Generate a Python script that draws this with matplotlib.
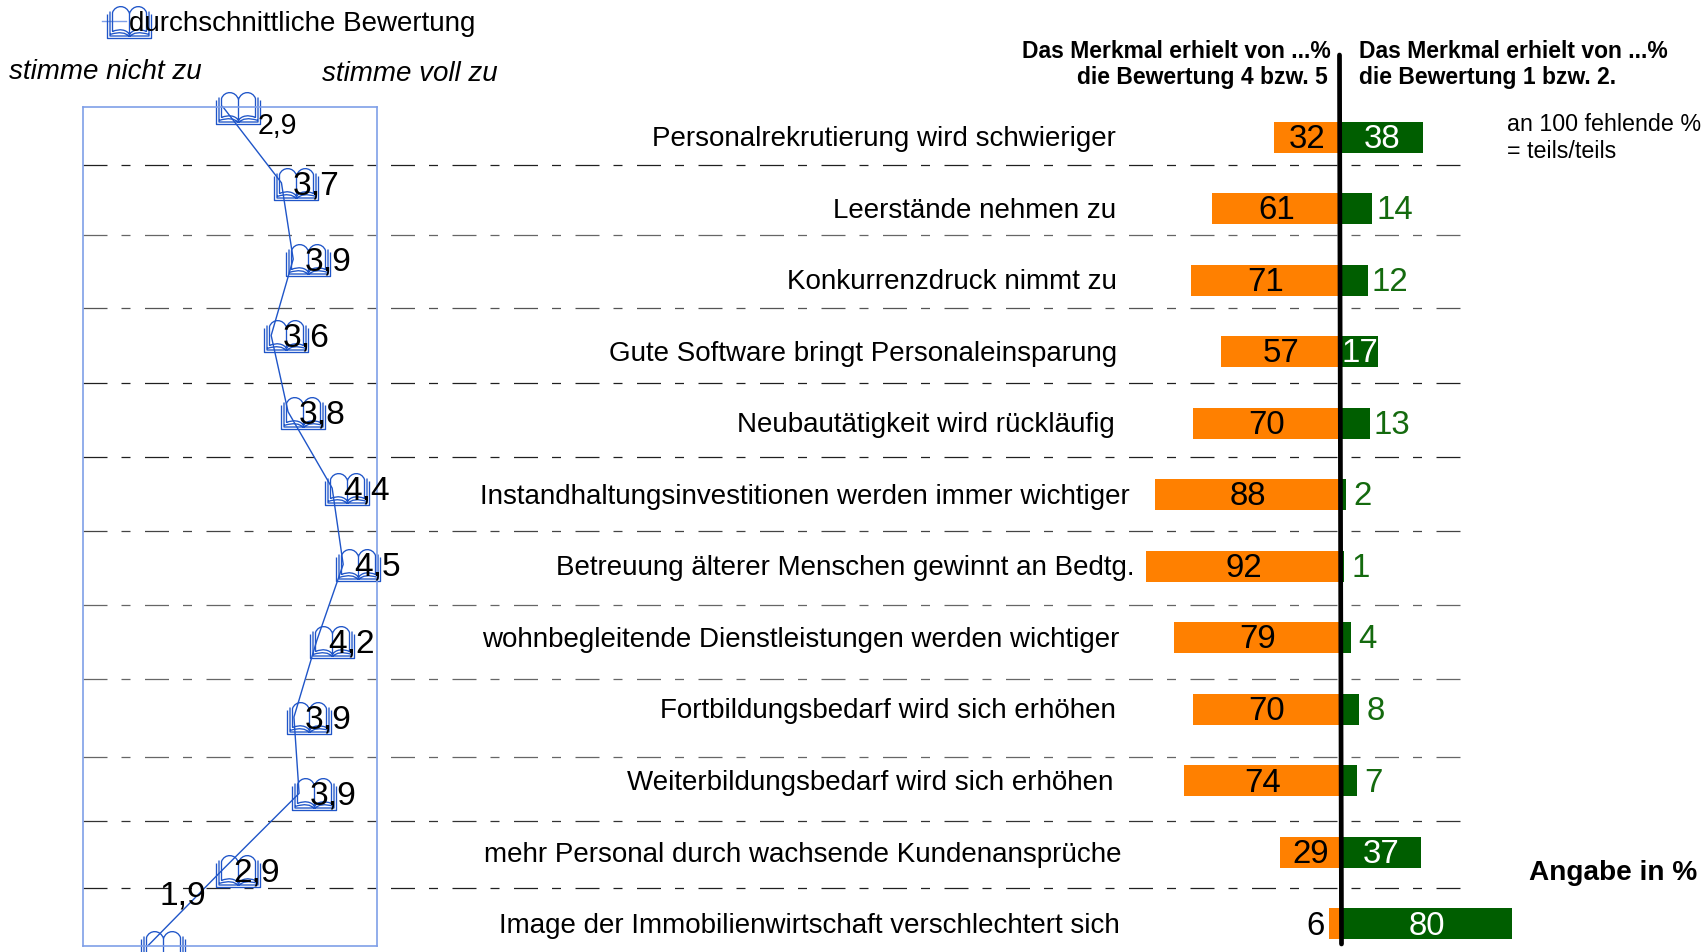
import matplotlib
matplotlib.use('Agg')
import matplotlib.pyplot as plt
from matplotlib.path import Path

plt.rcParams['font.family'] = ['Liberation Sans', 'DejaVu Sans']

W, H = 1705, 952

merkmale = ['Personalrekrutierung wird schwieriger', 'Leerstände nehmen zu', 'Konkurrenzdruck nimmt zu',
            'Gute Software bringt Personaleinsparung', 'Neubautätigkeit wird rückläufig',
            'Instandhaltungsinvestitionen werden immer wichtiger', 'Betreuung älterer Menschen gewinnt an Bedtg.',
            'wohnbegleitende Dienstleistungen werden wichtiger', 'Fortbildungsbedarf wird sich erhöhen',
            'Weiterbildungsbedarf wird sich erhöhen', 'mehr Personal durch wachsende Kundenansprüche',
            'Image der Immobilienwirtschaft verschlechtert sich']
zustimmung = [32, 61, 71, 57, 70, 88, 92, 79, 70, 74, 29, 6]
ablehnung = [38, 14, 12, 17, 13, 2, 1, 4, 8, 7, 37, 80]
bewertung = [2.9, 3.7, 3.86, 3.56, 3.79, 4.39, 4.54, 4.18, 3.87, 3.94, 2.9, 1.88]
bewertung_text = ['2,9', '3,7', '3,9', '3,6', '3,8', '4,4', '4,5', '4,2', '3,9', '3,9', '2,9', '1,9']
trennlinien = [165, 235, 308, 383, 457, 531, 605, 679, 757, 821, 888]
linienfarben = ['#202020', '#666666', '#555555', '#202020', '#202020', '#444444', '#666666', '#666666',
                '#666666', '#333333', '#202020']
label_right = [1026, 1026, 1027, 1027, 1025, 1039, 1043, 1029, 1026, 1024, 1031, 1030]

BLUE = '#1f55c8'
ORANGE = '#ff8000'
GREEN = '#005e00'
GREEN_TXT = '#146a0e'


def px_axes(fig, left, top, right, bottom):
    return fig.add_axes([left / W, 1 - bottom / H, (right - left) / W, (bottom - top) / H])


def px(size):
    # font size from pixel height at dpi 100
    return size * 0.72


# open book, drawn right of the data point like in the original
def book_marker():
    dx, dy = 15, -1
    verts, codes = [], []

    def poly(pts):
        for i, p in enumerate(pts):
            verts.append((p[0] + dx, p[1] + dy))
            codes.append(Path.MOVETO if i == 0 else Path.LINETO)

    def curve(p0, c1, c2, p1):
        for p, k in zip((p0, c1, c2, p1), (Path.MOVETO, Path.CURVE4, Path.CURVE4, Path.CURVE4)):
            verts.append((p[0] + dx, p[1] + dy))
            codes.append(k)

    poly([(-22, 8), (-22, -16), (22, -16), (22, 8)])
    poly([(-19.5, 11), (-19.5, -13.5), (19.5, -13.5), (19.5, 11)])
    for s in (-1, 1):
        curve((0, 9), (s * 3, 18), (s * 14, 18), (s * 17, 10))
        poly([(s * 17, 10), (s * 17, -9)])
        curve((s * 17, -9), (s * 10, -6), (s * 3, -7), (0, -12))
        curve((s * 19.5, -12), (s * 10, -9), (s * 4, -10), (0, -14))
    poly([(0, 9), (0, -12)])
    return Path(verts, codes)


BOOK = book_marker()
BOOK_SIZE = px(2 * 37)

fig = plt.figure(figsize=(W / 100, H / 100), dpi=100)

# overlay in pixel coordinates for separators and free text
over = fig.add_axes([0, 0, 1, 1], zorder=1)
over.set_xlim(0, W)
over.set_ylim(H, 0)
over.axis('off')

for y, c in zip(trennlinien, linienfarben):
    over.plot([83, 1460], [y, y], color=c, lw=0.9, dashes=(24 / 1.25, 14 / 1.25, 9 / 1.25, 14.5 / 1.25))

over.plot([102, 126], [21, 21], color='#7f9fe8', lw=1)
over.plot([114], [21], marker=BOOK, ms=BOOK_SIZE, mfc='none', mec=BLUE, mew=0.95, ls='none')
over.text(129, 24, 'durchschnittliche Bewertung', fontsize=px(27.8), va='center', ha='left')
over.text(9, 72, 'stimme nicht zu', fontsize=px(27.8), style='italic', va='center')
over.text(322, 74, 'stimme voll zu', fontsize=px(27.8), style='italic', va='center')

head = dict(fontsize=px(22.9), fontweight='bold', va='center')
over.text(1331, 52, 'Das Merkmal erhielt von ...%', ha='right', **head)
over.text(1328, 77.5, 'die Bewertung 4 bzw. 5', ha='right', **head)
over.text(1359, 52, 'Das Merkmal erhielt von ...%', ha='left', **head)
over.text(1359, 77.5, 'die Bewertung 1 bzw. 2.', ha='left', **head)
over.text(1507, 124.5, 'an 100 fehlende %', fontsize=px(23.3), va='center')
over.text(1507, 151, '= teils/teils', fontsize=px(23.3), va='center')
over.text(1697, 873, 'Angabe in %', fontsize=px(28), fontweight='bold', va='center', ha='right')

# left panel: mean rating per item
ax_r = px_axes(fig, 83, 106.5, 377, 946)
ax_r.set_zorder(2)
ax_r.patch.set_alpha(0)
ypos = list(range(len(bewertung)))
ax_r.plot(bewertung, ypos, color=BLUE, lw=1, marker=BOOK, ms=BOOK_SIZE, mfc='none', mec=BLUE, mew=0.95,
          clip_on=False)
ax_r.set_xlim(1, 5)
ax_r.set_ylim(11, 0)
ax_r.set_xticks([])
ax_r.set_yticks([])
for sp in ax_r.spines.values():
    sp.set_color('#7f9fe8')
    sp.set_linewidth(1.2)
for i, (v, t) in enumerate(zip(bewertung, bewertung_text)):
    off = (34.5, 3)
    size = 33.5
    if i == 0:
        off = (55, 20)
        size = 28.5
    elif i == len(bewertung) - 1:
        off = (35, -50)
    ax_r.annotate(t, (v, i), xytext=(off[0] * 0.72, -off[1] * 0.72), textcoords='offset points',
                  fontsize=px(size), ha='center', va='center', annotation_clip=False)

# right panel: diverging bars, x in percent with 0 near the centre line
ax_b = px_axes(fig, 1000, 101.5, 1600, 952.5)
ax_b.set_zorder(0)
ax_b.axis('off')
scale = 2.13
ax_b.set_xlim((1000 - 1342) / scale, (1600 - 1342) / scale)
ax_b.set_ylim(11.4, -0.5)
yb = list(range(len(merkmale)))
ax_b.barh(yb, [-z for z in zustimmung], height=0.433, color=ORANGE)
ax_b.barh(yb, ablehnung, height=0.433, color=GREEN)

for i, name in enumerate(merkmale):
    over.text(label_right[i] * 1.0874, 139 + i * 71.55, name, fontsize=px(27.8), ha='right', va='center')
    z, a = zustimmung[i], ablehnung[i]
    # values sit a little below the bar centre, font metrics pull them up
    if z >= 10:
        ax_b.text(-z / 2 - 0.3, i + 0.03, str(z), fontsize=px(33), ha='center', va='center', color='black', zorder=5)
    else:
        ax_b.text(-z - 2.2, i + 0.03, str(z), fontsize=px(33), ha='right', va='center', color='black', zorder=5)
    if a >= 17:
        ax_b.text(a / 2, i + 0.03, str(a), fontsize=px(33), ha='center', va='center', color='white', zorder=5)
    elif a >= 10:
        ax_b.text(a + 2, i + 0.03, str(a), fontsize=px(33), ha='left', va='center', color=GREEN_TXT, zorder=5)
    else:
        ax_b.text(a + 3.5, i + 0.03, str(a), fontsize=px(33), ha='left', va='center', color=GREEN_TXT, zorder=5)

over.plot([1339.5, 1341.5], [55, 944], color='black', lw=3.4, solid_capstyle='round')

fig.savefig('out.png', dpi=100)
